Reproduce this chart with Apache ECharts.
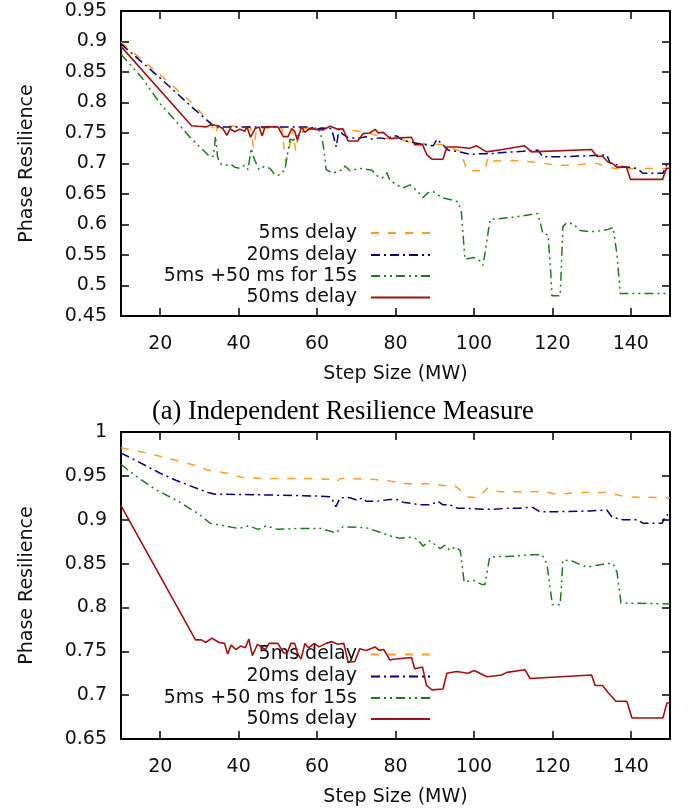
<!DOCTYPE html>
<html>
<head>
<meta charset="utf-8">
<script src="https://cdn.jsdelivr.net/npm/echarts@6/dist/echarts.min.js"></script>
<style>html,body{margin:0;padding:0;background:#fff;}#c{width:693px;height:810px;}</style>
</head>
<body>
<div id="c"></div>
<script>
// ---- data ----
const seriesNames = ['5ms delay', '20ms delay', '5ms +50 ms for 15s', '50ms delay'];
const xTicks = [20, 40, 60, 80, 100, 120, 140];
const yTicksTop = [0.45, 0.5, 0.55, 0.6, 0.65, 0.7, 0.75, 0.8, 0.85, 0.9, 0.95];
const yTicksBottom = [0.65, 0.7, 0.75, 0.8, 0.85, 0.9, 0.95, 1];

// (a) Independent Resilience Measure
const top5ms = [[10,0.899],[20,0.845],[28,0.800],[33,0.765],[34,0.748],[34.8,0.762],[43,0.760],[43.8,0.725],[44.6,0.758],[51,0.758],[52,0.703],[52.9,0.722],[53.6,0.757],[54.6,0.720],[55.4,0.757],[60,0.758],[66,0.756],[72,0.752],[78,0.741],[81.5,0.739],[84,0.734],[89.5,0.731],[92.1,0.731],[96.5,0.720],[98.3,0.688],[100.8,0.688],[102.8,0.688],[103.6,0.711],[104.9,0.704],[110,0.705],[116,0.702],[121.2,0.697],[125,0.697],[129.5,0.700],[131.5,0.700],[134,0.694],[137,0.691],[141,0.692],[145,0.692],[150,0.692]];
const top20ms = [[10,0.896],[20,0.840],[28,0.793],[33,0.765],[34,0.760],[45,0.760],[55,0.760],[58.5,0.760],[59.5,0.755],[61,0.758],[63.7,0.757],[64.9,0.727],[65.6,0.757],[66.5,0.748],[68,0.742],[71,0.742],[72.5,0.744],[74,0.740],[76,0.742],[78,0.740],[79,0.745],[80.4,0.745],[81.9,0.738],[86.3,0.732],[89.6,0.729],[90.6,0.740],[93.4,0.722],[96.5,0.719],[99,0.715],[101.5,0.716],[104.1,0.716],[107.4,0.718],[112.5,0.720],[116.3,0.722],[117.6,0.711],[122,0.711],[133.9,0.714],[134.7,0.701],[138,0.695],[141.6,0.692],[143.1,0.684],[148.2,0.684],[149.5,0.703]];
const top5ms50 = [[10,0.879],[15.3,0.841],[20,0.798],[24.6,0.765],[27.6,0.743],[30.9,0.722],[32.7,0.711],[33.6,0.712],[34.1,0.745],[34.6,0.712],[35.2,0.700],[36.5,0.697],[38,0.699],[39,0.694],[40.3,0.692],[41.5,0.697],[42.4,0.690],[43.2,0.725],[43.8,0.710],[44.5,0.700],[45.2,0.690],[46.5,0.695],[48,0.692],[49.3,0.681],[50.5,0.681],[51.8,0.690],[53.1,0.740],[54,0.738],[55.5,0.748],[57,0.755],[59,0.757],[60.2,0.759],[61.3,0.740],[61.8,0.720],[62.3,0.690],[64,0.684],[65.5,0.688],[66.6,0.690],[67.1,0.696],[68.4,0.688],[71,0.692],[74,0.689],[75.3,0.680],[76.6,0.676],[77.8,0.685],[78.6,0.672],[80.6,0.664],[81.9,0.660],[83.7,0.665],[85.5,0.655],[87,0.644],[88.3,0.652],[89.6,0.654],[91.9,0.644],[93.9,0.641],[96,0.637],[96.8,0.620],[97.7,0.543],[99.9,0.546],[101.6,0.540],[102.3,0.533],[103,0.560],[104.1,0.608],[105.4,0.609],[110,0.612],[116.3,0.618],[117.6,0.585],[118.9,0.583],[119.6,0.520],[119.9,0.483],[122,0.483],[122.7,0.597],[123.7,0.603],[125.3,0.601],[127.1,0.590],[129.6,0.588],[132.9,0.590],[134.2,0.592],[135.5,0.595],[136.5,0.550],[137.3,0.487],[150,0.487]];
const top50ms = [[10,0.892],[28,0.762],[29.6,0.761],[31.8,0.760],[33,0.764],[34.7,0.762],[36,0.757],[37,0.746],[37.8,0.757],[39,0.752],[40.3,0.756],[41.6,0.753],[42.1,0.761],[43,0.743],[44.2,0.757],[45.2,0.760],[46,0.745],[46.7,0.760],[50,0.760],[51.4,0.744],[52.6,0.744],[53.5,0.757],[54.3,0.753],[55,0.738],[56,0.760],[56.9,0.751],[58.2,0.758],[59.5,0.756],[61.5,0.755],[63.3,0.761],[65.3,0.756],[66.6,0.757],[67.9,0.737],[70.4,0.737],[71.7,0.749],[73.4,0.750],[74.8,0.756],[75.6,0.750],[76.9,0.751],[78.6,0.741],[81,0.742],[84.1,0.743],[84.9,0.731],[86.9,0.731],[88,0.714],[89.3,0.707],[92.1,0.707],[93.1,0.727],[95.6,0.727],[98.9,0.725],[100.7,0.729],[103.2,0.719],[107.3,0.723],[107.8,0.726],[112.9,0.729],[114.7,0.719],[130,0.723],[131.3,0.712],[132.8,0.712],[134.1,0.703],[135.3,0.700],[136.4,0.694],[138.9,0.694],[139.9,0.674],[148.1,0.674],[149.1,0.692],[150,0.692]];

// second panel
const bot5ms = [[10,0.982],[16.6,0.976],[23.8,0.968],[28,0.963],[32,0.957],[37,0.953],[41,0.948],[46,0.947],[56,0.947],[63.5,0.946],[64.8,0.943],[66,0.947],[74,0.946],[78.6,0.944],[83,0.941],[88,0.941],[92,0.939],[95,0.939],[96.5,0.934],[98,0.926],[101,0.925],[103.5,0.936],[104.5,0.933],[107,0.932],[118,0.932],[121,0.929],[127,0.931],[134,0.931],[137,0.928],[139,0.926],[150,0.925]];
const bot20ms = [[10,0.976],[12.3,0.971],[20,0.953],[24,0.945],[28,0.938],[32.2,0.931],[34,0.929],[37,0.929],[50,0.928],[60,0.927],[63.5,0.926],[64.8,0.915],[65.9,0.925],[68.4,0.925],[70.4,0.922],[71.5,0.925],[72.5,0.921],[75,0.921],[78.6,0.923],[80.4,0.923],[81.9,0.920],[85,0.918],[86.3,0.917],[89,0.917],[90.8,0.921],[92.1,0.917],[93.9,0.917],[95.9,0.913],[98.2,0.913],[102.3,0.912],[104.9,0.912],[108.7,0.913],[111.2,0.913],[113.5,0.914],[115,0.914],[116.8,0.909],[119.4,0.909],[129.6,0.910],[133.9,0.911],[135.2,0.903],[138,0.900],[141.6,0.900],[143.1,0.896],[148,0.896],[148.8,0.904],[149.5,0.906]];
const bot5ms50 = [[10,0.963],[12.3,0.955],[15.3,0.945],[19,0.934],[24.6,0.921],[30,0.906],[32.7,0.896],[35,0.894],[40,0.890],[42.5,0.893],[45,0.889],[47,0.893],[50,0.889],[55,0.890],[61,0.890],[64.8,0.885],[66.6,0.892],[72.5,0.891],[76.5,0.885],[79,0.881],[81,0.879],[84,0.880],[85.5,0.878],[87,0.870],[88.8,0.876],[91.4,0.867],[92.6,0.871],[93.9,0.865],[95.2,0.869],[96.5,0.865],[97.5,0.829],[99.8,0.831],[102.1,0.826],[102.8,0.826],[104,0.857],[106,0.858],[108.7,0.858],[114.3,0.860],[117.4,0.860],[118.6,0.850],[120,0.803],[122,0.803],[122.7,0.854],[125,0.853],[127.1,0.849],[128.8,0.846],[131.4,0.848],[133.9,0.850],[135.5,0.850],[136.5,0.840],[137.5,0.805],[150,0.804]];
const bot50ms = [[10,0.916],[29,0.763],[30.5,0.763],[31.6,0.760],[33.2,0.765],[35,0.760],[36.4,0.759],[37.2,0.747],[38.1,0.757],[39.3,0.752],[40.5,0.756],[41.7,0.754],[42.6,0.764],[43.5,0.745],[44.8,0.758],[45.7,0.755],[46.8,0.752],[47.8,0.759],[50,0.759],[51.5,0.748],[52.4,0.748],[53.3,0.759],[54.3,0.759],[55,0.748],[55.9,0.741],[56.9,0.759],[57.8,0.754],[59.3,0.759],[60.5,0.755],[62.3,0.759],[63.8,0.761],[65.3,0.758],[66.8,0.759],[67.9,0.738],[69.6,0.738],[70.9,0.753],[72.5,0.751],[74.8,0.755],[75.8,0.751],[77,0.752],[78.6,0.740],[79.5,0.741],[84.1,0.743],[84.9,0.730],[86.9,0.732],[87.9,0.711],[89.3,0.706],[92.1,0.707],[93.1,0.725],[95.6,0.727],[98.5,0.725],[100.1,0.728],[103.3,0.721],[107.1,0.723],[108.4,0.726],[113,0.729],[114.3,0.719],[130,0.723],[130.9,0.711],[132.8,0.711],[134.2,0.703],[136.2,0.693],[139,0.693],[140.3,0.674],[148.2,0.674],[149.2,0.691],[150,0.691]];

// ---- styling ----
const FONT = 'DejaVu Sans';
const TXT = '#111';
const styles = [
  {color: '#ff9c22', type: [8, 9], width: 1.5},
  {color: '#00007a', type: [9, 4, 2, 4], width: 1.5},
  {color: '#1e7a1e', type: [9, 4, 2, 4, 2, 4], width: 1.5},
  {color: '#a3100f', type: 'solid', width: 1.6}
];
const grids = [
  {left: 121, right: 23, top: 11, height: 305},
  {left: 121, right: 23, top: 432, height: 307}
];

function xAx(g, pos, main) {
  return {
    type: 'value', gridIndex: g, position: pos, min: 10, max: 150,
    axisLine: {show: true, onZero: false, lineStyle: {color: '#000', width: 2}},
    axisTick: {show: true, inside: true, length: 8, customValues: xTicks, lineStyle: {color: '#000', width: 1.5}},
    axisLabel: {show: main, customValues: xTicks, margin: 19, fontSize: 19, color: TXT, fontFamily: FONT},
    splitLine: {show: false},
    name: main ? 'Step Size (MW)' : '', nameLocation: 'middle', nameGap: 49,
    nameTextStyle: {fontSize: 19, color: TXT, fontFamily: FONT}
  };
}
function yAx(g, pos, main, ticks) {
  return {
    type: 'value', gridIndex: g, position: pos, min: ticks[0], max: ticks[ticks.length - 1], interval: 0.05,
    axisLine: {show: true, onZero: false, lineStyle: {color: '#000', width: 2}},
    axisTick: {show: true, inside: true, length: 8, lineStyle: {color: '#000', width: 1.5}},
    axisLabel: {show: main, margin: 14, fontSize: 19, color: TXT, fontFamily: FONT,
      formatter: v => String(+v.toFixed(2))},
    splitLine: {show: false},
    name: main ? 'Phase Resilience' : '', nameLocation: 'middle', nameGap: 84, nameRotate: 90,
    nameTextStyle: {fontSize: 19, color: TXT, fontFamily: FONT}
  };
}

const panels = [[top5ms, top20ms, top5ms50, top50ms], [bot5ms, bot20ms, bot5ms50, bot50ms]];
const series = [];
panels.forEach((arrs, g) => {
  arrs.forEach((d, i) => {
    series.push({
      type: 'line', name: seriesNames[i], data: d,
      xAxisIndex: g * 2, yAxisIndex: g * 2,
      symbol: 'none', showSymbol: false, silent: true, animation: false,
      color: styles[i].color,
      lineStyle: {color: styles[i].color, width: styles[i].width, type: styles[i].type},
      z: 2 + i
    });
  });
});

const legendRows = [[233, 255, 276, 297.5], [654.5, 676.5, 698, 719]];
const legends = [];
legendRows.forEach(rows => {
  rows.forEach((y, i) => {
    legends.push({
      data: [seriesNames[i]], orient: 'vertical', align: 'right', right: 262, top: y - 10,
      padding: 0, itemWidth: 59, itemHeight: 14, selectedMode: false,
      itemStyle: {opacity: 0},
      textStyle: {fontSize: 19, color: TXT, fontFamily: FONT, lineHeight: 20, padding: [0, 9, 0, 0]}
    });
  });
});

const chart = echarts.init(document.getElementById('c'), null, {renderer: 'canvas'});
chart.setOption({
  backgroundColor: '#fff',
  animation: false,
  title: {text: '(a) Independent Resilience Measure', left: 147, top: 394,
    textStyle: {fontFamily: 'Liberation Serif', fontSize: 26.5, fontWeight: 'normal', color: '#000'}},
  grid: grids,
  xAxis: [xAx(0, 'bottom', true), xAx(0, 'top', false), xAx(1, 'bottom', true), xAx(1, 'top', false)],
  yAxis: [yAx(0, 'left', true, yTicksTop), yAx(0, 'right', false, yTicksTop), yAx(1, 'left', true, yTicksBottom), yAx(1, 'right', false, yTicksBottom)],
  legend: legends,
  series: series
});
</script>
</body>
</html>
